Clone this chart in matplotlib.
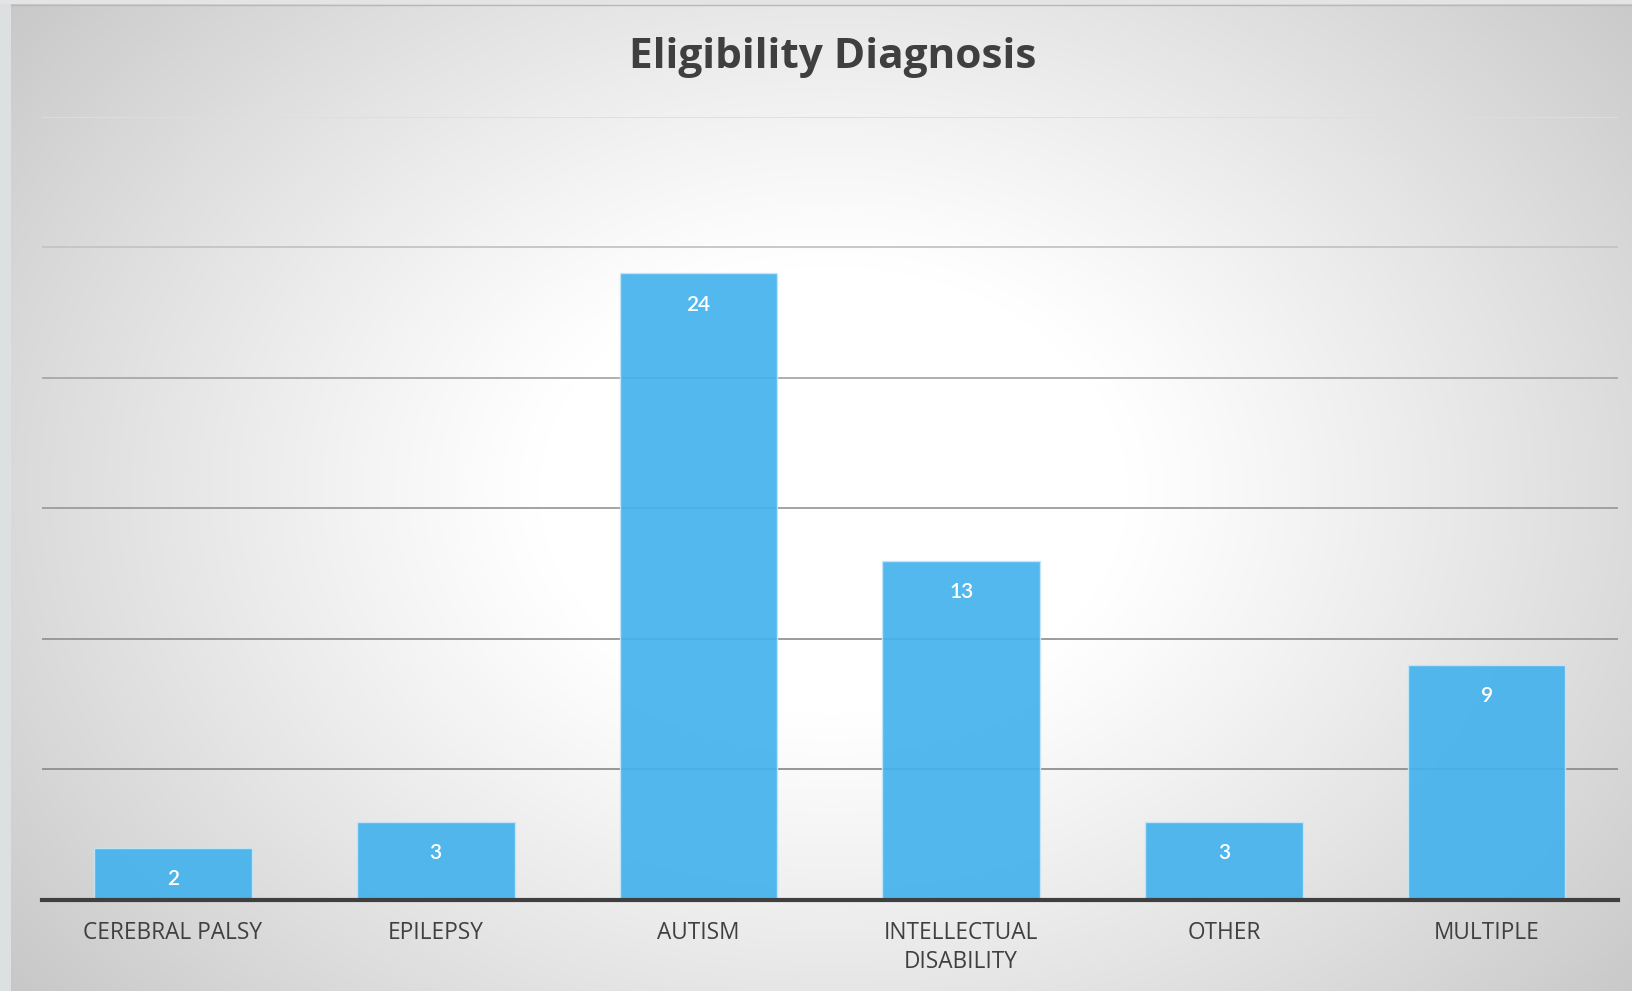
import numpy as np
import matplotlib
matplotlib.use("Agg")
import matplotlib.pyplot as plt
from matplotlib.patches import Rectangle

categories = ["CEREBRAL PALSY", "EPILEPSY", "AUTISM", "INTELLECTUAL\nDISABILITY", "OTHER", "MULTIPLE"]
values = [2, 3, 24, 13, 3, 9]
title = "Eligibility Diagnosis"

W, H = 1632, 991
fig = plt.figure(figsize=(W / 100, H / 100), dpi=100)

# background radial gradient
bg = fig.add_axes([0, 0, 1, 1], zorder=-10)
yy, xx = np.mgrid[0:H, 0:W]
cx, cy = 833, 490
r = np.sqrt(((xx - cx) / 816.0) ** 2 + ((yy - cy) / 620.0) ** 2)
v = 255 - 60 * np.clip(r - 0.36, 0, None) ** 1.1
v = np.clip(v, 0, 255) / 255.0
bg.imshow(np.dstack([v, v, v]), extent=[0, W, H, 0], aspect="auto")
bg.set_xlim(0, W)
bg.set_ylim(H, 0)
bg.axis("off")
bg.add_patch(Rectangle((0, 0), 11, H, color="#dde0e0", lw=0))
bg.add_patch(Rectangle((0, 0), W, 4, color="#e4e4e4", lw=0))
bg.plot([11, W], [4.5, 4.5], color="#b8b8b8", lw=1)

ax = fig.add_axes([41.6 / W, 1 - 900 / H, (1618 - 41.6) / W, (900 - 116.6) / H])
ax.patch.set_alpha(0)
x = np.arange(len(categories))
ax.set_xlim(-0.5, len(categories) - 0.5)
ax.set_ylim(0, 30)
for gy, c in zip(range(5, 31, 5), ["#8e8e8e", "#949494", "#9c9c9c", "#a8a8a8", "#c4c4c4", "#dedede"]):
    ax.axhline(gy, color=c, lw=1.3, zorder=1)
bars = ax.bar(x, values, width=0.6, color="#44b2ec", alpha=0.92, edgecolor="#c6e6f6", linewidth=1.0, zorder=2)
ax.axhline(0, color="#3f3f3f", lw=3, zorder=3, clip_on=False)
for xi, val in zip(x, values):
    ax.annotate(str(val), (xi, val), xytext=(0, -22.5), textcoords="offset points",
                ha="center", va="center", color="white", fontsize=15, fontweight="semibold",
                family="Lato", zorder=4)
for s in ax.spines.values():
    s.set_visible(False)
ax.set_yticks([])
ax.set_xticks(x)
ax.set_xticklabels(categories, fontsize=16.3, color="#404040", family="Open Sans", linespacing=1.3)
ax.tick_params(axis="x", length=0, pad=15)

fig.text(833 / W, 1 - 58 / H, title, ha="center", va="center", fontsize=30.5, fontweight="bold",
         color="#3f3f3f", family="Open Sans")

fig.savefig("out.png", dpi=100)
